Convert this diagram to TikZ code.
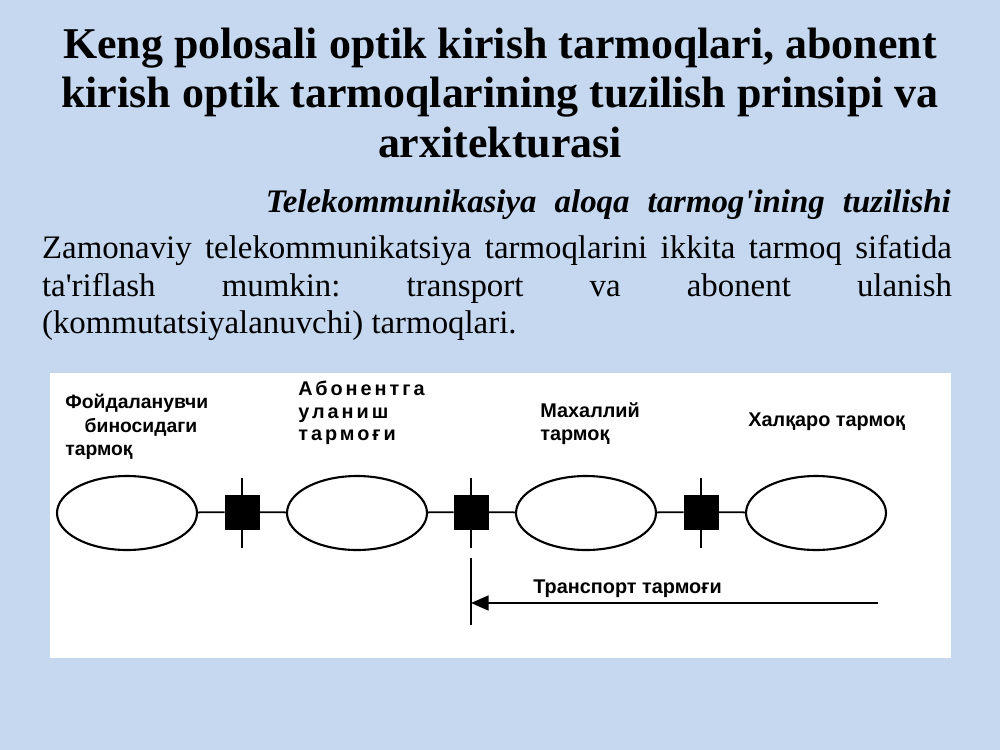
\documentclass[tikz,border=0pt]{standalone}
\usepackage{fontspec}
\setmainfont{Liberation Serif}[Ligatures=TeXOff]
\newfontfamily\labelfont{Liberation Sans}
\newfontfamily\spacedfont[LetterSpace=15]{Liberation Sans}
\usepackage{tikz}
\usetikzlibrary{shapes.geometric,arrows.meta}
\tikzset{>=latex}
\frenchspacing
\definecolor{slideblue}{RGB}{197,216,240}
\tikzset{
  netellipse/.style={draw,ellipse,line width=1.2pt,minimum width=2.8cm,minimum height=1.48cm,inner sep=0pt},
  switchbox/.style={draw,fill=black,minimum size=0.68cm,inner sep=0pt},
  netlabel/.style={font=\labelfont\bfseries\fontsize{11.3}{13.5}\selectfont,align=left,inner sep=0pt}
}

\begin{document}
\begin{tikzpicture}[x=0.02cm,y=-0.02cm]
  \path[fill=slideblue] (0,0) rectangle (1000,750);
  \useasboundingbox (0,0) rectangle (1000,750);
  \node[align=center,font=\bfseries\fontsize{25}{28.4}\selectfont] (title) at (500,93)
    {Keng polosali optik kirish tarmoqlari, abonent\\kirish optik tarmoqlarining tuzilish prinsipi va\\arxitekturasi};
  \node[anchor=east,inner sep=0pt,font=\bfseries\itshape\fontsize{18.7}{21.5}\selectfont] (subtitle) at (951,205)
    {\makebox[13.7cm][s]{Telekommunikasiya aloqa tarmog'ining tuzilishi}};
  \node[text width=18.2cm,align=justify,inner sep=0pt,font=\fontsize{18.7}{21.5}\selectfont] (body) at (497,288)
    {Zamonaviy telekommunikatsiya tarmoqlarini ikkita tarmoq sifatida\linebreak ta'riflash mumkin: transport va abonent ulanish\linebreak (kommutatsiyalanuvchi) tarmoqlari.};
  \path[fill=white] (50,373) rectangle (951,658);
  % networks and switches
  \node[netellipse] (net1) at (127,513) {};
  \node[netellipse] (net2) at (357,513) {};
  \node[netellipse] (net3) at (586,513) {};
  \node[netellipse] (net4) at (816,513) {};
  \node[switchbox] (sw1) at (242,512) {};
  \node[switchbox] (sw2) at (471,512) {};
  \node[switchbox] (sw3) at (701,512) {};
  \draw[line width=1pt] (net1) -- (sw1) -- (net2) -- (sw2) -- (net3) -- (sw3) -- (net4);
  \draw[line width=1pt] (sw1) ++(0,-34) -- ++(0,70);
  \draw[line width=1pt] (sw2) ++(0,-34) -- ++(0,70);
  \draw[line width=1pt] (sw3) ++(0,-34) -- ++(0,70);
  % labels
  \node[netlabel,anchor=north west,font=\labelfont\bfseries\fontsize{11}{13.3}\selectfont] (lab1) at (65,394)
    {Фойдаланувчи\\\hspace*{11pt}биносидаги\\тармоқ};
  \node[netlabel,anchor=north west,font=\spacedfont\bfseries\fontsize{11.3}{12.8}\selectfont] (lab2) at (298,381)
    {Абонентга\\уланиш\\тармоғи};
  \node[netlabel,anchor=north west] (lab3) at (540,402) {Махаллий\\тармоқ};
  \node[netlabel,anchor=west] (lab4) at (748,422) {Халқаро тармоқ};
  % transport network
  \coordinate (trtop) at (471,558);
  \coordinate (trbot) at (471,625);
  \coordinate (trstart) at (878,603);
  \draw[line width=1pt] (trtop) -- (trbot);
  \draw[line width=1pt,-{Triangle[length=10pt,width=8.5pt]}] (trstart) -- (trstart -| trtop);
  \node[netlabel,anchor=west] (lab5) at (533,589) {Транспорт тармоғи};
\end{tikzpicture}
\end{document}
